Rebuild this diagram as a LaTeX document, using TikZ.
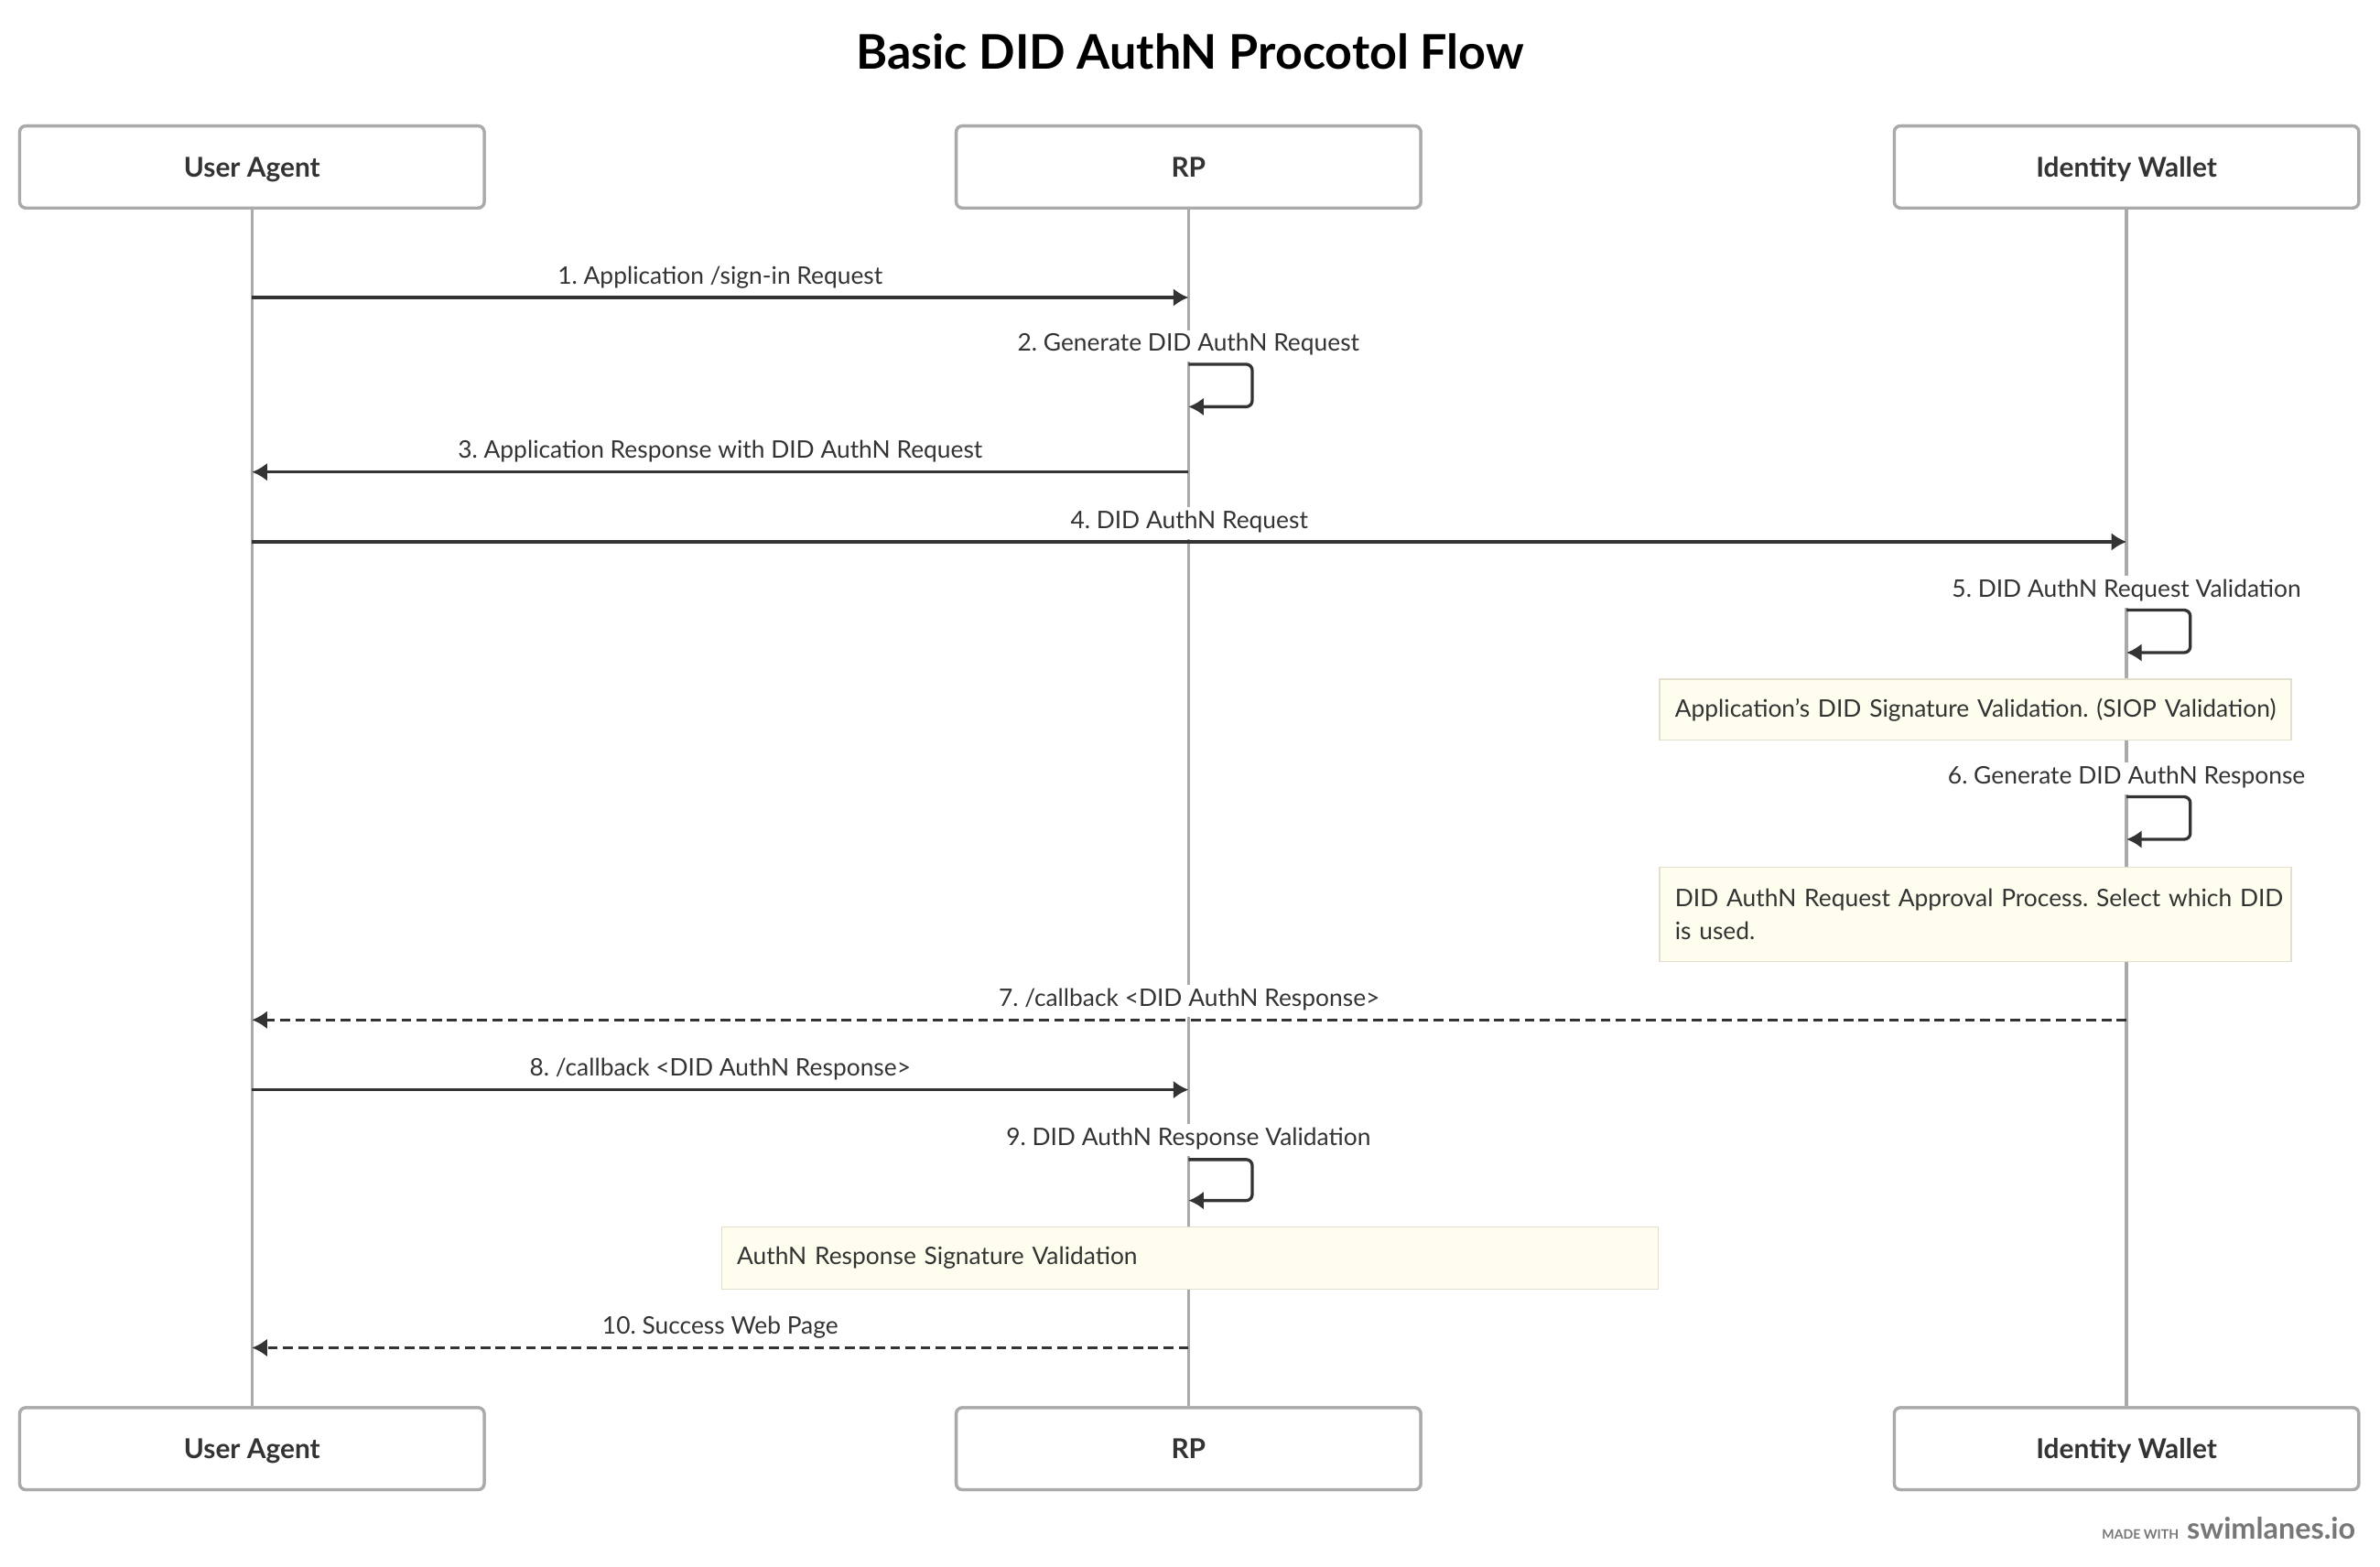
\documentclass[tikz,border=0pt]{standalone}
\usepackage{fontspec}
\setmainfont{Lato}
\usepackage{tikz}
\usetikzlibrary{arrows.meta,positioning}
\definecolor{ink}{HTML}{333333}
\definecolor{lanegray}{HTML}{AAAAAA}
\definecolor{notefill}{HTML}{FFFDEE}
\definecolor{noteedge}{HTML}{E2E0CC}
\definecolor{footgray}{HTML}{777777}
\newcommand{\lblfont}{\fontsize{15.9}{22}\selectfont}
\frenchspacing

\tikzset{
  actor/.style={draw=lanegray, line width=2pt, rounded corners=4pt, fill=white,
    minimum width=306pt, minimum height=54pt, text=ink,
    text height=13pt, text depth=0pt,
    font=\bfseries\fontsize{18}{20}\selectfont},
  life/.style={draw=lanegray, line width=2pt},
  msg/.style={draw=ink, line width=2pt, -{Latex[length=10pt,width=12pt]}},
  reply/.style={msg, dash pattern=on 6.5pt off 3.5pt},
  lbl/.style={fill=white, text=ink, font=\lblfont, inner sep=3pt,
    text height=11pt, text depth=4pt},
  note/.style={draw=noteedge, fill=notefill, line width=1pt, text=ink, font=\lblfont,
    anchor=north west, align=left, inner xsep=10pt, inner ysep=0pt},
}

\begin{document}
\begin{tikzpicture}[x=1pt, y=-1pt]

  \newcommand\UA{166}
  \newcommand\RP{783}
  \newcommand\IW{1401}

  \useasboundingbox[fill=white] (0,0) rectangle (1568,1032);

  \node[text=black, font=\bfseries\fontsize{31.4}{36}\selectfont] (title) at (784,34) {Basic DID AuthN Procotol Flow};

  %% actors, top and bottom
  \node[actor] (ua top) at (\UA,110) {User Agent};
  \node[actor] (rp top) at (\RP,110) {RP};
  \node[actor] (iw top) at (\IW,110) {Identity Wallet};
  \node[actor] (ua bot) at (\UA,954.5) {User Agent};
  \node[actor] (rp bot) at (\RP,954.5) {RP};
  \node[actor] (iw bot) at (\IW,954.5) {Identity Wallet};

  \draw[life] (ua top) -- (ua bot);
  \draw[life] (rp top) -- (rp bot);
  \draw[life] (iw top) -- (iw bot);
  % redraw boxes over the lanes
  \node[actor] at (ua top) {User Agent};
  \node[actor] at (rp top) {RP};
  \node[actor] at (iw top) {Identity Wallet};
  \node[actor] at (ua bot) {User Agent};
  \node[actor] at (rp bot) {RP};
  \node[actor] at (iw bot) {Identity Wallet};

  %% points on the lanes
  \foreach \n/\y in {1/196, 3/311, 4/357, 7/672, 8/718, 10/888}{
    \coordinate (ua\n) at (\UA,\y);
    \coordinate (rp\n) at (\RP,\y);
    \coordinate (iw\n) at (\IW,\y);
  }
  \coordinate (rp2a) at (\RP,240); \coordinate (rp2b) at (\RP,268);
  \coordinate (iw5a) at (\IW,402); \coordinate (iw5b) at (\IW,430);
  \coordinate (iw6a) at (\IW,525); \coordinate (iw6b) at (\IW,553);
  \coordinate (rp9a) at (\RP,764); \coordinate (rp9b) at (\RP,791);

  %% notes
  \node[note, text width=396pt, minimum height=40pt] (note1) at (1093,447)
    {Application's DID Signature Validation. (SIOP Validation)};
  \node[note, text width=396pt, minimum height=62pt] (note2) at (1093,571)
    {\mbox{DID AuthN Request Approval Process. Select which DID}\\is used.};
  \node[note, text width=597pt, minimum height=41pt] (note3) at (475,808)
    {AuthN Response Signature Validation};

  %% messages
  \draw[msg] (ua1) -- node[lbl, above=1pt] (l1) {1. Application /sign-in Request} (rp1);

  \node[lbl] (l2) at (\RP,228) {2. Generate DID AuthN Request};
  \draw[msg, rounded corners=4pt] (rp2a) -- ++(42,0) |- (rp2b); % self

  \draw[msg] (rp3) -- node[lbl, above=1pt] (l3) {3. Application Response with DID AuthN Request} (ua3);
  \draw[msg] (ua4) -- node[lbl, above=1pt] (l4) {4. DID AuthN Request} (iw4);

  \node[lbl] (l5) at (\IW,390) {5. DID AuthN Request Validation};
  \draw[msg, rounded corners=4pt] (iw5a) -- ++(42,0) |- (iw5b); % self

  \node[lbl] (l6) at (\IW,513) {6. Generate DID AuthN Response};
  \draw[msg, rounded corners=4pt] (iw6a) -- ++(42,0) |- (iw6b); % self

  \draw[reply] (iw7) -- node[lbl, above=1pt] (l7) {7. /callback <DID AuthN Response>} (ua7);
  \draw[msg] (ua8) -- node[lbl, above=1pt] (l8) {8. /callback <DID AuthN Response>} (rp8);

  \node[lbl] (l9) at (\RP,751) {9. DID AuthN Response Validation};
  \draw[msg, rounded corners=4pt] (rp9a) -- ++(42,0) |- (rp9b); % self

  \draw[reply] (rp10) -- node[lbl, above=1pt] (l10) {10. Success Web Page} (ua10);

  %% footer
  \node[anchor=base east, text=footgray, font=\bfseries\fontsize{19.5}{22}\selectfont, inner sep=0pt] (brand) at (1552,1014) {swimlanes.io};
  \node[anchor=base east, text=footgray, font=\bfseries\fontsize{8.5}{10}\selectfont, inner sep=0pt] (made) at ([xshift=-5pt]brand.base west) {MADE WITH};

\end{tikzpicture}
\end{document}
